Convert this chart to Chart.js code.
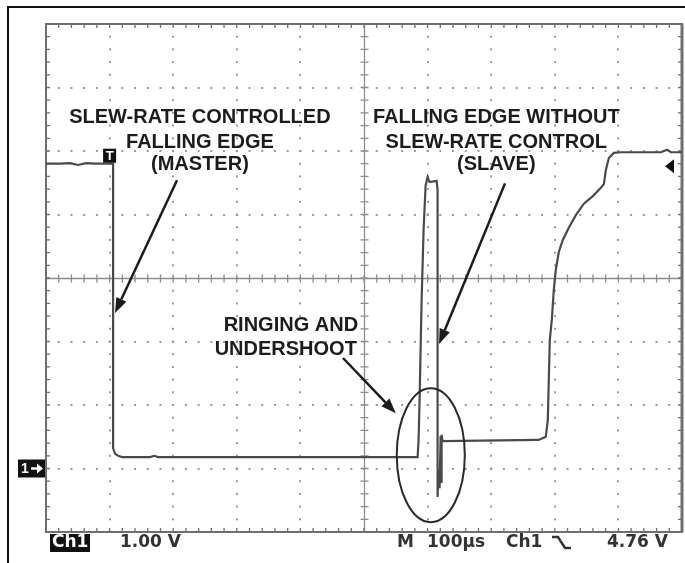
<!DOCTYPE html>
<html>
<head>
<meta charset="utf-8">
<script src="https://cdn.jsdelivr.net/npm/chart.js@4.4.0/dist/chart.umd.min.js"></script>
<style>
  html, body { margin: 0; padding: 0; background: #fff; }
  #wrap { width: 685px; height: 563px; }
</style>
</head>
<body>
<div id="wrap"><canvas id="scope" width="685" height="563"></canvas></div>
<script>
// Ch1 trace, time in µs from the left edge of the screen, 100 µs/div
const timeUs = [
  0, 22, 37.8, 50.4, 63, 77.2, 105.5, 105.5, 108.7, 113.4, 119.7, 163.8, 170.1, 176.4,
  400, 584.3, 585.8, 587.4, 590.6, 593.7, 596.9, 600, 603.1, 614.2, 615.7, 615.7,
  617.3, 618.9, 620.5, 622, 622, 623.6, 774.8, 785.8, 789, 792.1, 795.3, 798.4,
  801.6, 806.3, 812.6, 822, 833.1, 845.7, 859.8, 872.4, 877.2, 880.3, 885, 892.9,
  903.9, 966.9, 976.4, 982.7, 1000
];
// Ch1 voltage, 1.00 V/div
const volts = [
  4.80, 4.80, 4.81, 4.78, 4.81, 4.80, 4.80, 0.32, 0.23, 0.20, 0.18, 0.18, 0.20, 0.18,
  0.18, 0.18, 0.45, 1.08, 2.65, 3.76, 4.46, 4.59, 4.51, 4.53, 4.39, -0.45,
  -0.02, -0.31, 0.51, -0.23, 0.53, 0.43, 0.45, 0.50, 0.76, 2.02, 2.34, 2.81,
  3.13, 3.41, 3.60, 3.79, 3.99, 4.17, 4.29, 4.42, 4.48, 4.70, 4.89, 4.97,
  4.98, 4.98, 5.02, 4.98, 4.98
];

// screen: 10 x 8 divisions
const xDivs = [0, 100, 200, 300, 400, 500, 600, 700, 800, 900, 1000];
const yDivs = [-1, 0, 1, 2, 3, 4, 5, 6, 7];
const triggerLevel = 4.76;
const triggerTime = 100;

const leftNote = ['SLEW-RATE CONTROLLED', 'FALLING EDGE', '(MASTER)'];
const rightNote = ['FALLING EDGE WITHOUT', 'SLEW-RATE CONTROL', '(SLAVE)'];
const ringNote = ['RINGING AND', 'UNDERSHOOT'];
const statusLeft = ['Ch1', '1.00 V'];
const statusRight = ['M', '100µs', 'Ch1', '4.76 V'];

const GRID = '#9a9a9a';
const FRAME = '#6e6e6e';
const TRACE = '#4a4a4a';
const INK = '#1c1c1c';

function arrow(ctx, x1, y1, x2, y2) {
  const dx = x2 - x1, dy = y2 - y1;
  const len = Math.hypot(dx, dy);
  const ux = dx / len, uy = dy / len;
  const bx = x2 - ux * 15, by = y2 - uy * 15;
  ctx.beginPath();
  ctx.moveTo(x1, y1);
  ctx.lineTo(bx, by);
  ctx.stroke();
  ctx.beginPath();
  ctx.moveTo(x2, y2);
  ctx.lineTo(bx - uy * 5.5, by + ux * 5.5);
  ctx.lineTo(bx + uy * 5.5, by - ux * 5.5);
  ctx.closePath();
  ctx.fill();
}

const scopePlugin = {
  id: 'scope',
  beforeDatasetsDraw(chart) {
    const ctx = chart.ctx;
    const xs = chart.scales.x, ys = chart.scales.y;
    const { left, right, top, bottom } = chart.chartArea;
    ctx.save();
    // dotted graticule
    ctx.fillStyle = GRID;
    xDivs.slice(1, -1).forEach(t => {
      if (t === 500) return;
      const px = Math.round(xs.getPixelForValue(t));
      for (let i = 0; i <= 40; i++) {
        const py = ys.getPixelForValue(-1 + i * 0.2);
        ctx.fillRect(px - 1, py - 1, 2, 2);
      }
    });
    yDivs.slice(1, -1).forEach(v => {
      if (v === 3) return;
      const py = Math.round(ys.getPixelForValue(v));
      for (let i = 0; i <= 50; i++) {
        const px = xs.getPixelForValue(i * 20);
        ctx.fillRect(px - 1, py - 1, 2, 2);
      }
    });
    // centre cross with minor ticks
    const cx = Math.round(xs.getPixelForValue(500)) + 0.5;
    const cy = Math.round(ys.getPixelForValue(3)) + 0.5;
    ctx.strokeStyle = '#8c8c8c';
    ctx.lineWidth = 1.3;
    ctx.beginPath();
    ctx.moveTo(left, cy); ctx.lineTo(right, cy);
    ctx.moveTo(cx, top); ctx.lineTo(cx, bottom);
    for (let i = 0; i <= 50; i++) {
      const px = xs.getPixelForValue(i * 20);
      ctx.moveTo(px, cy - 4); ctx.lineTo(px, cy + 4);
    }
    for (let i = 0; i <= 40; i++) {
      const py = ys.getPixelForValue(-1 + i * 0.2);
      ctx.moveTo(cx - 4, py); ctx.lineTo(cx + 4, py);
    }
    ctx.stroke();
    // frame ticks
    ctx.strokeStyle = FRAME;
    ctx.lineWidth = 1.3;
    ctx.beginPath();
    for (let i = 0; i <= 50; i++) {
      const px = xs.getPixelForValue(i * 20);
      ctx.moveTo(px, top); ctx.lineTo(px, top + 4);
      ctx.moveTo(px, bottom); ctx.lineTo(px, bottom - 4);
    }
    for (let i = 0; i <= 40; i++) {
      const py = ys.getPixelForValue(-1 + i * 0.2);
      ctx.moveTo(left, py); ctx.lineTo(left + 4, py);
      ctx.moveTo(right, py); ctx.lineTo(right - 4, py);
    }
    ctx.stroke();
    ctx.lineWidth = 2;
    ctx.strokeRect(left, top, right - left, bottom - top);
    ctx.lineWidth = 3;
    ctx.beginPath();
    ctx.moveTo(right, top); ctx.lineTo(right, bottom);
    ctx.stroke();
    ctx.restore();
  },
  afterDatasetsDraw(chart) {
    const ctx = chart.ctx;
    const xs = chart.scales.x, ys = chart.scales.y;
    const X = t => xs.getPixelForValue(t);
    const Y = v => ys.getPixelForValue(v);
    const { left, right, bottom } = chart.chartArea;
    ctx.save();

    // outer frame of the screenshot
    ctx.strokeStyle = '#111';
    ctx.lineWidth = 2;
    ctx.beginPath();
    ctx.moveTo(8, 563); ctx.lineTo(8, 7); ctx.lineTo(685, 7);
    ctx.stroke();

    // callout text
    ctx.fillStyle = INK;
    ctx.font = 'bold 20px "Liberation Sans", Arial, sans-serif';
    ctx.textAlign = 'center';
    ctx.textBaseline = 'middle';
    const rows = [5.52, 5.14, 4.78];
    leftNote.forEach((s, i) => ctx.fillText(s, X(242), Y(rows[i])));
    rightNote.forEach((s, i) => ctx.fillText(s, X(708), Y(rows[i])));
    ctx.fillText(ringNote[0], X(385), Y(2.26));
    ctx.fillText(ringNote[1], X(377), Y(1.88));

    // arrows
    ctx.strokeStyle = INK;
    ctx.lineWidth = 2.5;
    arrow(ctx, X(206), Y(4.54), X(108.5), Y(2.45));
    arrow(ctx, X(721.7), Y(4.49), X(618), Y(1.96));
    arrow(ctx, X(467), Y(1.74), X(550), Y(0.87));

    // ellipse around the ringing
    ctx.strokeStyle = '#2a2a2a';
    ctx.lineWidth = 2;
    ctx.beginPath();
    ctx.ellipse(X(605), Y(0.21), X(605) - X(551.5), Y(0.21 - 1.055) - Y(0.21), 0, 0, Math.PI * 2);
    ctx.stroke();

    // trigger position marker
    const tx = X(triggerTime), ty = Y(4.8);
    ctx.fillStyle = '#111';
    ctx.fillRect(tx - 6.5, ty - 15, 13, 14);
    ctx.fillStyle = '#fff';
    ctx.font = 'bold 13px "Liberation Sans", Arial, sans-serif';
    ctx.fillText('T', tx, ty - 7.5);

    // ground marker
    const gy = Y(0);
    ctx.fillStyle = '#111';
    ctx.fillRect(18, gy - 9, 27, 18);
    ctx.fillStyle = '#fff';
    ctx.font = 'bold 14px "Liberation Sans", Arial, sans-serif';
    ctx.fillText('1', 25, gy + 1);
    ctx.strokeStyle = '#fff';
    ctx.lineWidth = 2.5;
    ctx.beginPath();
    ctx.moveTo(31, gy); ctx.lineTo(40, gy);
    ctx.stroke();
    ctx.beginPath();
    ctx.moveTo(43, gy); ctx.lineTo(37, gy - 5); ctx.lineTo(37, gy + 5); ctx.closePath();
    ctx.fill();

    // trigger level marker
    const ly = Y(triggerLevel);
    ctx.fillStyle = '#111';
    ctx.beginPath();
    ctx.moveTo(right - 17, ly); ctx.lineTo(right - 8, ly - 7); ctx.lineTo(right - 8, ly + 7);
    ctx.closePath();
    ctx.fill();

    // status line
    const sy = bottom + 11;
    ctx.font = 'bold 17px "DejaVu Sans", "Liberation Sans", sans-serif';
    ctx.textAlign = 'left';
    ctx.fillStyle = '#111';
    ctx.fillRect(left + 4, bottom + 2, 40, 18);
    ctx.fillStyle = '#fff';
    ctx.fillText(statusLeft[0], left + 6, sy);
    ctx.fillStyle = '#333';
    ctx.fillText(statusLeft[1], left + 74, sy);
    ctx.fillText(statusRight[0], 397, sy);
    ctx.fillText(statusRight[1], 427, sy);
    ctx.fillText(statusRight[2], 506, sy);
    ctx.fillText(statusRight[3], 607, sy);
    ctx.strokeStyle = '#333';
    ctx.lineWidth = 2.5;
    ctx.beginPath();
    ctx.moveTo(552, sy - 6); ctx.lineTo(558, sy - 6); ctx.lineTo(565, sy + 5); ctx.lineTo(571, sy + 5);
    ctx.stroke();
    ctx.restore();
  }
};

new Chart(document.getElementById('scope'), {
  type: 'line',
  data: {
    datasets: [{
      label: 'Ch1',
      data: timeUs.map((t, i) => ({ x: t, y: volts[i] })),
      borderColor: TRACE,
      borderWidth: 2.2,
      pointRadius: 0,
      tension: 0,
      fill: false
    }]
  },
  options: {
    responsive: false,
    animation: false,
    devicePixelRatio: 1,
    layout: { padding: { left: 46, top: 24, right: 3, bottom: 31 } },
    plugins: { legend: { display: false }, tooltip: { enabled: false } },
    scales: {
      x: { type: 'linear', min: xDivs[0], max: xDivs[xDivs.length - 1], display: false },
      y: { type: 'linear', min: yDivs[0], max: yDivs[yDivs.length - 1], display: false }
    }
  },
  plugins: [scopePlugin]
});
</script>
</body>
</html>
